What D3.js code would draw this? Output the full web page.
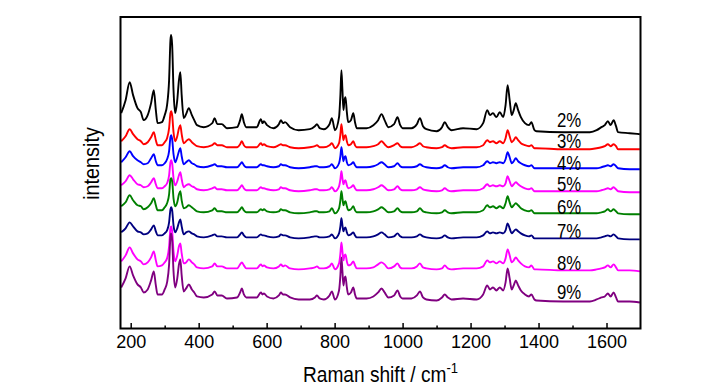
<!DOCTYPE html>
<html><head><meta charset="utf-8">
<script src="https://cdn.jsdelivr.net/npm/d3@7"></script>
<style>html,body{margin:0;padding:0;background:#fff;}svg{display:block;}text{font-family:"Liberation Sans",Arial,sans-serif;fill:#000;}</style>
</head><body><svg id="c" width="727" height="389"></svg>
<script>
// Raman shift (cm-1) sample positions
const wavenumbers = [172,185,197,207,220,230,238,250,260,268,274,279,292,300,307,313,317,319,322,326,331,337,342,346,350,356,363,371,380,387,395,415,440,447,455,468,483,513,522,527,533,540,571,583,588,592,601,620,636,642,648,654,669,694,727,742,748,756,768,785,792,801,813,817,820,823,826,829,832,836,840,848,855,860,865,894,914,928,938,947,958,975,985,993,1000,1026,1042,1051,1060,1070,1100,1116,1124,1133,1144,1178,1218,1237,1249,1257,1266,1276,1286,1296,1303,1309,1315,1321,1327,1333,1340,1348,1360,1372,1379,1388,1394,1472,1551,1571,1585,1595,1604,1612,1621,1628,1634,1668,1698];
// intensities (a.u., stacked)
const s2 = [215,228,246,233,220,216,208,213,225,238,218,205,206,213,223,248,288,293,283,238,215,228,248,256,233,210,214,220,213,208,203,201,205,210,204,204,200,201,208,214,206,201,201,209,205,207,203,200,204,208,205,206,201,198,199,202,204,200,199,204,210,198,211,233,258,238,218,228,231,216,206,208,215,206,200,200,203,208,214,208,201,204,211,203,200,200,204,210,202,199,197,201,206,201,198,200,199,205,218,213,215,211,216,211,223,243,228,213,218,225,218,211,205,203,206,198,197,196,196,198,201,203,207,203,208,202,196,195,194];
const s3 = [187,192,199,194,189,187,184,186,191,196,188,183,183,186,190,200,215,217,213,196,187,192,200,203,194,185,187,189,186,184,182,181,183,185,183,183,181,181,184,187,183,181,181,185,183,184,182,181,183,184,183,183,181,180,181,182,183,181,181,183,185,180,185,194,204,196,188,192,193,187,183,184,187,183,181,181,182,184,187,184,181,183,185,182,181,181,183,185,182,181,180,181,183,181,180,181,181,183,188,186,187,185,187,185,190,198,192,186,188,191,188,185,183,182,183,180,180,179,179,180,181,182,184,182,184,182,179,179,179];
const s4 = [166,171,177,172,168,166,164,165,170,174,167,163,163,165,169,177,191,193,189,174,166,171,177,180,172,164,166,168,165,164,162,161,163,164,162,162,161,161,164,166,163,161,161,164,163,163,162,161,162,164,163,163,161,160,161,162,162,161,161,162,164,160,165,172,181,174,167,171,172,166,163,164,166,163,161,161,162,164,166,164,161,162,165,162,161,161,162,164,162,161,160,161,163,161,160,161,161,163,167,165,166,165,166,165,169,176,171,165,167,170,167,165,163,162,163,160,160,160,160,160,161,162,163,162,164,162,160,159,159];
const s5 = [143,147,153,149,144,143,141,142,146,150,144,140,140,142,145,153,166,168,165,150,143,147,153,156,149,141,143,144,142,141,139,138,140,141,139,139,138,138,141,143,140,138,138,141,140,140,139,138,139,141,140,140,138,137,138,139,139,138,138,139,141,137,142,149,157,150,144,147,148,143,140,141,143,140,138,138,139,141,143,141,138,139,142,139,138,138,139,141,139,138,137,138,140,138,137,138,138,140,144,142,143,142,143,142,145,152,147,142,144,146,144,142,140,139,140,137,137,137,137,137,138,139,140,139,141,139,137,136,136];
const s6 = [122,126,133,128,123,122,119,121,125,130,123,118,118,121,125,134,149,150,147,130,122,126,134,137,128,120,121,123,121,119,117,116,118,120,117,117,116,116,119,121,118,116,116,119,118,119,117,116,117,119,118,118,116,115,116,117,117,116,116,117,120,115,120,128,137,130,123,126,127,122,118,119,122,118,116,116,117,119,121,119,116,117,120,117,116,116,117,120,117,116,115,116,118,116,115,116,116,118,123,121,122,120,122,120,125,132,126,121,123,125,123,120,118,117,118,115,115,115,115,115,116,117,119,117,119,117,115,114,114];
const s7 = [96,100,106,102,97,96,94,95,99,103,97,93,93,95,98,106,119,121,118,103,96,100,106,109,102,94,96,97,95,94,92,91,93,94,92,92,91,91,94,96,93,91,91,94,93,93,92,91,92,94,93,93,91,90,91,92,92,91,91,92,94,90,95,102,110,103,97,100,101,96,93,94,96,93,91,91,92,94,96,94,91,92,95,92,91,91,92,94,92,91,90,91,93,91,90,91,91,93,97,95,96,95,96,95,98,105,100,95,97,99,97,95,93,92,93,90,90,90,90,90,91,92,93,92,94,92,90,89,89];
const s8 = [67,73,81,75,69,67,64,66,71,77,68,62,63,66,70,82,100,102,97,77,67,73,82,85,75,65,66,69,66,64,61,60,62,65,62,62,60,60,64,66,63,60,60,64,62,63,61,60,62,64,62,63,60,59,60,61,62,60,60,62,65,59,65,75,86,77,68,73,74,67,63,64,67,63,60,60,61,64,66,64,60,62,65,61,60,60,62,65,61,60,59,60,63,60,59,60,60,62,68,66,67,65,67,65,70,79,73,66,68,71,68,65,62,61,63,59,59,58,58,59,60,61,63,61,64,61,58,58,57];
const s9 = [41,50,62,53,44,41,36,39,48,57,43,34,34,39,46,64,92,95,88,57,41,50,64,69,53,37,40,44,39,36,32,31,34,37,33,33,30,31,36,40,34,31,31,36,34,35,32,30,33,36,34,34,31,29,29,31,33,30,29,33,37,29,38,53,71,57,43,50,52,41,34,36,41,34,30,30,32,36,40,36,31,33,38,32,30,30,33,37,31,29,28,31,34,31,29,30,29,34,43,39,41,38,41,38,46,60,50,39,43,48,43,38,34,32,34,29,28,27,27,29,31,32,35,32,36,31,27,27,26];
const seriesLabels = ["2%","3%","4%","5%","6%","7%","8%","9%"];
const seriesValues = [s2,s3,s4,s5,s6,s7,s8,s9];
const majorTicks = [200,400,600,800,1000,1200,1400,1600];
const minorTicks = [300,500,700,900,1100,1300,1500];

// styling / layout
const colors = ["#000000","#ff0000","#0000ff","#ff00ff","#008000","#000080","#ff00ff","#800080"];
const labelBaselines = [126.5,148,169.5,191,213.5,237.5,270,298.5];
const L = 120.5, R = 640.5, T = 17, B = 328.5;

const svg = d3.select("#c");
const x = d3.scaleLinear().domain([170,1700]).range([L,R]);
const y = d3.scaleLinear().domain([0,311]).range([B,T]);

const line = d3.line().x(d=>x(d[0])).y(d=>y(d[1])).curve(d3.curveMonotoneX);
const g = svg.append("g");
seriesValues.forEach((vals,i)=>{
  const pts = wavenumbers.map((w,j)=>[w, vals[j]]).filter(p=>p[1]!==undefined);
  g.append("path").attr("d", line(pts)).attr("fill","none")
   .attr("stroke", colors[i]).attr("stroke-width",1.9).attr("stroke-linejoin","round");
});

// labels
seriesLabels.forEach((t,i)=>{
  svg.append("text").attr("transform",`translate(557,${labelBaselines[i]}) scale(0.8,1)`)
    .attr("font-size",21).text(t);
});

// axes
const ax = svg.append("g").attr("transform",`translate(0,${B})`)
  .call(d3.axisBottom(x).tickValues(majorTicks).tickSize(-5.5).tickPadding(7).tickFormat(d3.format("d")));
ax.select(".domain").remove();
ax.selectAll(".tick line").attr("stroke","#000").attr("stroke-width",1.5);
ax.selectAll("text").attr("font-size",18).attr("font-family",'"Liberation Sans",Arial,sans-serif').attr("fill","#000");
const axm = svg.append("g").attr("transform",`translate(0,${B})`)
  .call(d3.axisBottom(x).tickValues(minorTicks).tickSize(-3).tickFormat(""));
axm.select(".domain").remove();
axm.selectAll(".tick line").attr("stroke","#000").attr("stroke-width",1.5);

// frame
svg.append("rect").attr("x",L).attr("y",T).attr("width",R-L).attr("height",B-T)
  .attr("fill","none").attr("stroke","#000").attr("stroke-width",2);

// axis titles
const xt = svg.append("text").attr("transform",`translate(${(L+R)/2},381.5) scale(0.87,1)`)
  .attr("text-anchor","middle").attr("font-size",22);
xt.append("tspan").text("Raman shift  / cm");
xt.append("tspan").attr("dy",-9).attr("font-size",15).text("-1");

svg.append("text").attr("transform","translate(99,163.5) rotate(-90) scale(0.9,1)")
  .attr("text-anchor","middle").attr("font-size",22).text("intensity");
</script></body></html>
